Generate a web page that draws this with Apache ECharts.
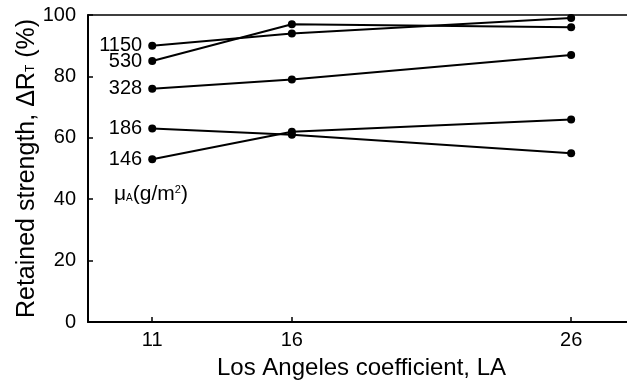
<!DOCTYPE html>
<html>
<head>
<meta charset="utf-8">
<script src="https://cdn.jsdelivr.net/npm/echarts@6/dist/echarts.min.js"></script>
<style>html,body{margin:0;padding:0;background:#fff;}#c{width:627px;height:381px;}</style>
</head>
<body>
<div id="c"></div>
<script>
const laValues = [11, 16, 26];
const seriesNames = ['1150', '530', '328', '186', '146'];
const s1150 = [90, 94, 99];
const s530 = [85, 97, 96];
const s328 = [76, 79, 87];
const s186 = [63, 61, 55];
const s146 = [53, 62, 66];
const yTicks = [0, 20, 40, 60, 80, 100];

const allValues = [s1150, s530, s328, s186, s146];
const FONT = 'Liberation Sans, Arial, sans-serif';

const chart = echarts.init(document.getElementById('c'));
const series = allValues.map((vals, i) => ({
  type: 'line',
  name: seriesNames[i],
  data: vals.map((v, j) => [laValues[j], v]),
  symbol: 'circle',
  symbolSize: 8,
  lineStyle: { color: '#000', width: 2 },
  itemStyle: { color: '#000' },
  label: {
    show: true,
    position: 'left',
    distance: 6,
    color: '#000',
    fontFamily: FONT,
    fontSize: 20,
    formatter: (p) => p.dataIndex === 0 ? seriesNames[i] : ''
  },
  animation: false,
  z: 3
}));

chart.setOption({
  animation: false,
  backgroundColor: '#fff',
  grid: { left: 88, right: 0, top: 15, bottom: 59, containLabel: false, outerBoundsMode: 'none' },
  xAxis: [{
    type: 'value',
    min: 8.7,
    max: 28,
    position: 'bottom',
    splitLine: { show: false },
    axisLine: { show: true, lineStyle: { color: '#000', width: 2 } },
    axisTick: { show: true, inside: true, length: 5, customValues: laValues, lineStyle: { color: '#000', width: 1.5 } },
    axisLabel: { show: true, customValues: laValues, color: '#000', fontFamily: FONT, fontSize: 20, margin: 8 },
    name: 'Los Angeles coefficient, LA',
    nameLocation: 'middle',
    nameGap: 34,
    nameMoveOverlap: false,
    nameTextStyle: { color: '#000', fontFamily: FONT, fontSize: 24, padding: [0, 0, 0, 8] }
  }, {
    type: 'value',
    min: 8.7,
    max: 28,
    position: 'top',
    splitLine: { show: false },
    axisLine: { show: true, onZero: false, lineStyle: { color: '#000', width: 1.5 } },
    axisTick: { show: false },
    axisLabel: { show: false }
  }],
  yAxis: {
    type: 'value',
    min: 0,
    max: 100,
    interval: 20,
    splitLine: { show: false },
    axisLine: { show: true, lineStyle: { color: '#000', width: 2 } },
    axisTick: { show: true, inside: true, length: 5, lineStyle: { color: '#000', width: 1.5 } },
    axisLabel: { color: '#000', fontFamily: FONT, fontSize: 20, margin: 12 },
    name: 'Retained strength, ΔR{sub|T} (%)',
    nameLocation: 'middle',
    nameGap: 47,
    nameMoveOverlap: false,
    nameTextStyle: {
      color: '#000', fontFamily: FONT, fontSize: 25, lineHeight: 27,
      rich: { sub: { fontSize: 12, color: '#000', fontFamily: FONT, lineHeight: 12, verticalAlign: 'bottom', padding: [0, 0, 4, 0] } }
    }
  },
  graphic: [{
    type: 'text',
    left: 114,
    top: 182,
    style: {
      text: '{m|μ}{s|A}{m|(g/m}{p|2}{m|)}',
      rich: {
        m: { fontSize: 21, fontFamily: FONT, fill: '#000', lineHeight: 25 },
        s: { fontSize: 10, fontFamily: FONT, fill: '#000', lineHeight: 10, verticalAlign: 'bottom', padding: [0, 0, 4, 0] },
        p: { fontSize: 11, fontFamily: FONT, fill: '#000', lineHeight: 11, verticalAlign: 'top', padding: [2, 0, 0, 0] }
      }
    }
  }],
  series: series
});
</script>
</body>
</html>
